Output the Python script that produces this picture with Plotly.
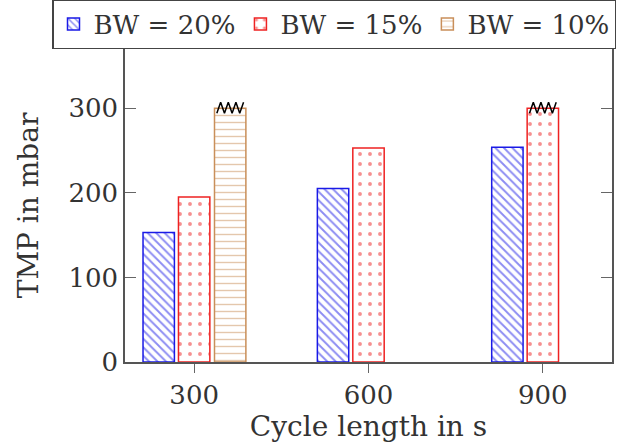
import plotly.graph_objects as go
import numpy as np

# ---- data ----
cycle_lengths = [300, 600, 900]
bw20 = [153, 205, 254]
bw15 = [195, 253, 300]
bw10 = [300, None, None]
series_names = ["BW = 20%", "BW = 15%", "BW = 10%"]
truncated = [[False, False, False], [False, False, True], [True, False, False]]
y_ticks = [0, 100, 200, 300]

colors = ["#1a1ae6", "#ee2222", "#c98f5a"]
shapes = ["\\", ".", "-"]
sizes = [6, 10, 7]
solid = [0.32, 0.12, 0.2]

bar_w = 54
offsets = [-88, -27, 35]

font_family = "DejaVu Serif"
txt = "#333333"

fig = go.Figure()
for i, vals in enumerate([bw20, bw15, bw10]):
    fig.add_trace(go.Bar(
        x=cycle_lengths, y=vals, name=series_names[i],
        width=bar_w, offset=offsets[i],
        marker=dict(color="white",
                    line=dict(color=colors[i], width=1.5),
                    pattern=dict(shape=shapes[i], fgcolor=colors[i], bgcolor="white",
                                 size=sizes[i], solidity=solid[i], fillmode="overlay")),
    ))

# zigzag marks on truncated bars
for i, vals in enumerate([bw20, bw15, bw10]):
    for j, v in enumerate(vals):
        if v is not None and truncated[i][j]:
            x0 = cycle_lengths[j] + offsets[i] + 4
            x1 = cycle_lengths[j] + offsets[i] + bar_w - 4
            n = 7
            xs = np.linspace(x0, x1, n + 1)
            ys = [v + (7 if k % 2 else -6) for k in range(n + 1)]
            fig.add_trace(go.Scatter(x=xs, y=ys, mode="lines",
                                     line=dict(color="black", width=1.5),
                                     showlegend=False, hoverinfo="skip"))

fig.update_layout(
    width=625, height=445,
    margin=dict(l=125, r=13, t=49, b=83, autoexpand=False),
    plot_bgcolor="white", paper_bgcolor="white",
    barmode="overlay",
    font=dict(family=font_family, color=txt, size=22),
    showlegend=True,
    legend=dict(orientation="h", xref="paper", yref="paper",
                x=(52 - 125) / 487, y=1.0, xanchor="left", yanchor="bottom",
                bgcolor="white", bordercolor="#444", borderwidth=1.5,
                font=dict(size=26, family=font_family, color=txt),
                itemwidth=30, tracegroupgap=0,
                traceorder="normal"),
)
fig.update_xaxes(
    range=[181, 1019], tickvals=cycle_lengths, ticktext=[str(c) for c in cycle_lengths],
    ticks="outside", ticklen=9, tickcolor="#666", tickwidth=1,
    showline=True, linecolor="#555", linewidth=1.5, mirror=True,
    showgrid=False, zeroline=False,
    title=dict(text="Cycle length in s", font=dict(size=28), standoff=6),
    tickfont=dict(size=26),
)
fig.update_yaxes(
    range=[0, 370], tickvals=y_ticks,
    ticks="inside", ticklen=11, tickcolor="#666", tickwidth=1,
    showline=True, linecolor="#555", linewidth=1.5, mirror="ticks",
    showgrid=False, zeroline=False,
    title=dict(text="TMP in mbar", font=dict(size=28), standoff=22),
    tickfont=dict(size=26),
)

fig.write_html("out.html")
